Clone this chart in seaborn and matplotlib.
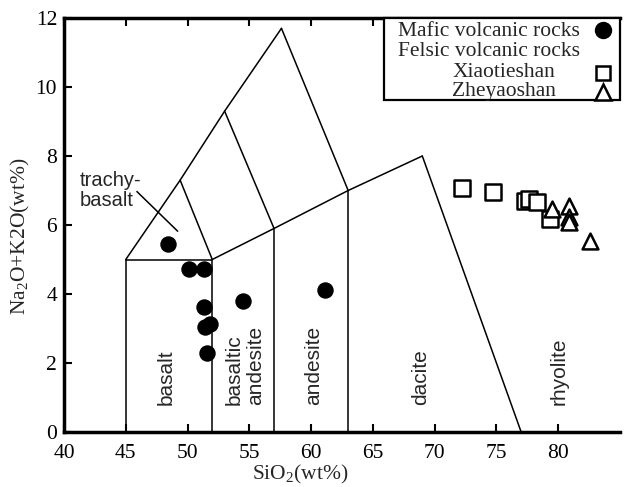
import matplotlib
matplotlib.use("Agg")
import matplotlib.pyplot as plt
import seaborn as sns
import pandas as pd
from matplotlib.patches import Rectangle

# ---------------- data ----------------
mafic_sio2 = [48.4, 50.1, 51.3, 51.3, 51.4, 51.8, 51.6, 54.5, 61.1]
mafic_alk = [5.44, 4.72, 4.72, 3.61, 3.05, 3.13, 2.28, 3.81, 4.12]

xiao_sio2 = [72.2, 74.7, 77.3, 77.6, 78.3, 79.3]
xiao_alk = [7.06, 6.95, 6.70, 6.74, 6.66, 6.17]

zhey_sio2 = [79.5, 80.9, 80.9, 80.9, 82.6]
zhey_alk = [6.46, 6.55, 6.24, 6.10, 5.54]

# TAS field boundaries (SiO2, Na2O+K2O)
bound_x = [[45, 45], [45, 52], [52, 52], [57, 57], [63, 63],
           [52, 57, 63, 69], [69, 77], [45, 49.4, 53, 57.6],
           [49.4, 52], [53, 57], [57.6, 63]]
bound_y = [[0, 5], [5, 5], [0, 5], [0, 5.9], [0, 7],
           [5, 5.9, 7, 8], [8, 0], [5, 7.3, 9.3, 11.7],
           [7.3, 5], [9.3, 5.9], [11.7, 7]]

field_names = ["basalt", "basaltic\nandesite", "andesite", "dacite", "rhyolite"]
field_x = [48.3, 54.65, 60.2, 68.9, 80.1]
field_y = 0.78

x_ticks = [40, 45, 50, 55, 60, 65, 70, 75, 80]
y_ticks = [0, 2, 4, 6, 8, 10, 12]

legend_labels = ["Mafic volcanic rocks", "Felsic volcanic rocks",
                 "Xiaotieshan", "Zheyaoshan"]
legend_indent = [0, 0, 1, 1]
legend_markers = ["o", None, "s", "^"]

# ---------------- style ----------------
sns.set_theme(style="ticks")
plt.rcParams["font.family"] = ["Liberation Serif", "DejaVu Serif"]
plt.rcParams["mathtext.fontset"] = "custom"
plt.rcParams["mathtext.rm"] = "Liberation Serif"
plt.rcParams["mathtext.it"] = "Liberation Serif:italic"

fig = plt.figure(figsize=(6.24, 4.87), dpi=100)
ax = fig.add_axes([64 / 624, 55 / 487, 556 / 624, 414 / 487])

for bx, by in zip(bound_x, bound_y):
    ax.plot(bx, by, color="black", lw=1.1, zorder=1)

# leader for trachy-basalt
ax.plot([45.9, 49.2], [6.97, 5.82], color="black", lw=1.1, zorder=1)
ax.text(41.3, 7.0, "trachy-\nbasalt", family=["Liberation Sans"], fontsize=14.5,
        ha="left", va="center", linespacing=1.0)

for name, fx in zip(field_names, field_x):
    ax.text(fx, field_y, name, rotation=90, ha="center", va="bottom",
            family=["Liberation Sans"], fontsize=15, multialignment="left",
            linespacing=1.2)

df_m = pd.DataFrame({"SiO2": mafic_sio2, "alk": mafic_alk})
df_x = pd.DataFrame({"SiO2": xiao_sio2, "alk": xiao_alk})
df_z = pd.DataFrame({"SiO2": zhey_sio2, "alk": zhey_alk})

sns.scatterplot(data=df_m, x="SiO2", y="alk", ax=ax, marker="o", s=140,
                color="black", edgecolor="black", linewidth=0, zorder=3)
sns.scatterplot(data=df_x, x="SiO2", y="alk", ax=ax, marker="s", s=120,
                facecolor="white", edgecolor="black", linewidth=1.8, zorder=3)
sns.scatterplot(data=df_z, x="SiO2", y="alk", ax=ax, marker="^", s=130,
                facecolor="white", edgecolor="black", linewidth=1.8, zorder=3)

ax.set_xlim(40, 85)
ax.set_ylim(0, 12)
ax.set_xticks(x_ticks)
ax.set_yticks(y_ticks)
ax.tick_params(direction="in", length=6, width=1.5, top=True, right=False,
               labelsize=15.5, colors="black")
ax.tick_params(axis="x", pad=9)
ax.tick_params(axis="y", pad=5)
for side in ["left", "bottom", "top"]:
    ax.spines[side].set_linewidth(2.5)
    ax.spines[side].set_color("black")
ax.spines["right"].set_visible(False)

ax.set_xlabel("SiO$_2$(wt%)", fontsize=15.5)
ax.set_ylabel("Na$_2$O+K2O(wt%)", fontsize=15.5)
ax.xaxis.set_label_coords(0.425, -0.074)
ax.yaxis.set_label_coords(-0.058, 0.473)

# ---- legend box (drawn in axes coordinates) ----
box_left, box_bottom = 0.5755, 0.802
ax.add_patch(Rectangle((box_left, box_bottom), 1 - box_left, 1 - box_bottom,
                       transform=ax.transAxes, facecolor="white",
                       edgecolor="black", lw=1.6, zorder=5, clip_on=False))
row_y = [0.968, 0.918, 0.868, 0.822]
text_x = [0.601, 0.698]
marker_x = 0.969
for lab, ind, mk, ry in zip(legend_labels, legend_indent, legend_markers, row_y):
    ax.text(text_x[ind], ry, lab, transform=ax.transAxes, fontsize=15.5,
            ha="left", va="center", zorder=6)
    if mk == "o":
        ax.plot([marker_x], [ry + 0.002], marker="o", color="black", ms=11.5,
                transform=ax.transAxes, zorder=6, clip_on=False)
    elif mk is not None:
        ax.plot([marker_x], [ry], marker=mk, linestyle="none",
                markerfacecolor="white", markeredgecolor="black",
                markeredgewidth=1.8, ms=10 if mk == "s" else 11,
                transform=ax.transAxes, zorder=6, clip_on=False)

fig.savefig("out.png", dpi=100)
